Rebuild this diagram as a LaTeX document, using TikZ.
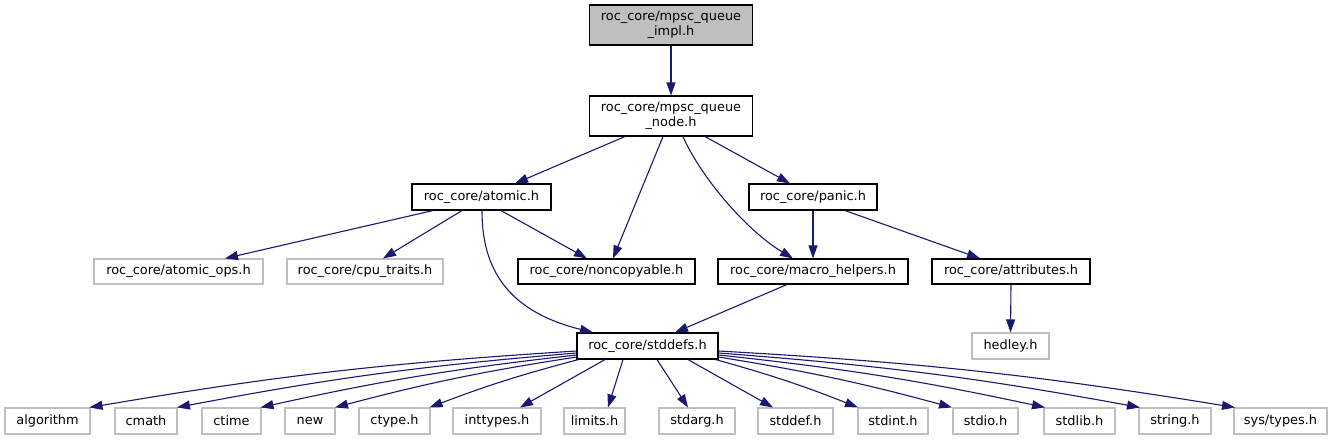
\documentclass[tikz,border=0pt]{standalone}
\usepackage{fontspec}
\setmainfont{DejaVu Sans}
\usetikzlibrary{arrows.meta,calc}
\definecolor{edgec}{HTML}{191970}
\definecolor{extc}{HTML}{BFBFBF}
\begin{document}
\begin{tikzpicture}[x=1pt,y=-1pt,
 base/.style={rectangle, inner sep=0pt, font=\fontsize{12.9}{15}\selectfont, align=center, line width=1.1pt},
 hdr/.style={base, draw=black, fill=white},
 ext/.style={base, draw=extc, fill=white},
 root/.style={base, draw=black, fill=extc},
 e/.style={draw=edgec, line width=1.1pt, -{Triangle[length=13pt,width=9pt]}},
]
\useasboundingbox (0,0) rectangle (1336,440);
% nodes
\node[root, minimum width=163, minimum height=40] (impl) at (671,25) {roc\_core/mpsc\_queue\\\_impl.h};
\node[hdr, minimum width=163, minimum height=40] (qnode) at (671,116) {roc\_core/mpsc\_queue\\\_node.h};
\node[hdr, minimum width=139, minimum height=26] (atomic) at (481.5,197) {roc\_core/atomic.h};
\node[hdr, minimum width=128, minimum height=26] (panic) at (813,197) {roc\_core/panic.h};
\node[ext, minimum width=169, minimum height=25] (aops) at (178.5,271.5) {roc\_core/atomic\_ops.h};
\node[ext, minimum width=156, minimum height=25] (cpu) at (365,271.5) {roc\_core/cpu\_traits.h};
\node[hdr, minimum width=177, minimum height=25] (noncp) at (606.5,271.5) {roc\_core/noncopyable.h};
\node[hdr, minimum width=190, minimum height=25] (macro) at (813,271.5) {roc\_core/macro\_helpers.h};
\node[hdr, minimum width=158, minimum height=25] (attr) at (1011,271.5) {roc\_core/attributes.h};
\node[hdr, minimum width=141, minimum height=26] (std) at (647.5,346) {roc\_core/stddefs.h};
\node[ext, minimum width=77, minimum height=26] (hedley) at (1010.5,346) {hedley.h};
% bottom row
\node[ext, minimum width=85, minimum height=26] (alg) at (47.5,421) {algorithm};
\node[ext, minimum width=62, minimum height=26] (cmath) at (146,421) {cmath};
\node[ext, minimum width=59, minimum height=26] (ctime) at (231.5,421) {ctime};
\node[ext, minimum width=50, minimum height=26] (new) at (310,421) {new};
\node[ext, minimum width=71, minimum height=26] (ctype) at (394.5,421) {ctype.h};
\node[ext, minimum width=88, minimum height=26] (inttypes) at (497,421) {inttypes.h};
\node[ext, minimum width=61, minimum height=26] (limits) at (594.5,421) {limits.h};
\node[ext, minimum width=76, minimum height=26] (stdarg) at (697,421) {stdarg.h};
\node[ext, minimum width=75, minimum height=26] (stddef) at (795.5,421) {stddef.h};
\node[ext, minimum width=70, minimum height=26] (stdint) at (893,421) {stdint.h};
\node[ext, minimum width=65, minimum height=26] (stdio) at (985.5,421) {stdio.h};
\node[ext, minimum width=71, minimum height=26] (stdlib) at (1079.5,421) {stdlib.h};
\node[ext, minimum width=72, minimum height=26] (string) at (1175,421) {string.h};
\node[ext, minimum width=93, minimum height=26] (systypes) at (1280.5,421) {sys/types.h};
% edges
\draw[e] (impl.south) -- (qnode.north);
\draw[e] ($(qnode.south)+(-46,0)$) -- ($(atomic.north)+(33.5,0)$);
\draw[e] ($(qnode.south)+(-8,0)$) -- ($(noncp.north)+(6.5,0)$);
\draw[e] ($(qnode.south)+(12,0)$) .. controls +(17,39) and +(-48,-29) .. ($(macro.north)+(-20,0)$);
\draw[e] ($(qnode.south)+(34,0)$) -- ($(panic.north)+(-23,0)$);
\draw[e] ($(atomic.south)+(-48.5,0)$) -- ($(aops.north)+(46.5,0)$);
\draw[e] ($(atomic.south)+(-19.5,0)$) -- ($(cpu.north)+(18,0)$);
\draw[e] ($(atomic.south)+(19.5,0)$) -- ($(noncp.north)+(-19.5,0)$);
\draw[e] ($(atomic.south)+(0.5,0)$) .. controls +(0,50) and +(-93,-23) .. ($(std.north)+(-54.5,0)$);
\draw[e] (panic.south) -- (macro.north);
\draw[e] ($(panic.south)+(32,0)$) -- ($(attr.north)+(-31,0)$);
\draw[e] ($(macro.south)+(-26,0)$) -- ($(std.north)+(27.5,0)$);
\draw[e] (attr.south) -- (hedley.north);
% stddefs fan-out
\draw[e] ($(std.west)+(0,5)$) to[bend right=3] ($(alg.north)+(42,0)$);
\draw[e] ($(std.west)+(0,7)$) to[bend right=3] ($(cmath.north)+(31,0)$);
\draw[e] ($(std.west)+(0,9)$) to[bend right=3] ($(ctime.north)+(29,0)$);
\draw[e] ($(std.west)+(0,11)$) to[bend right=3] ($(new.north)+(25,0)$);
\draw[e] ($(std.south west)+(2,0)$) to[bend right=3] ($(ctype.north)+(35,0)$);
\draw[e] ($(std.south)+(-42.5,0)$) -- ($(inttypes.north)+(23,0)$);
\draw[e] ($(std.south)+(-24.5,0)$) -- ($(limits.north)+(13.5,0)$);
\draw[e] ($(std.south)+(9.5,0)$) -- ($(stdarg.north)+(-9,0)$);
\draw[e] ($(std.south)+(40.5,0)$) -- ($(stddef.north)+(-22.5,0)$);
\draw[e] ($(std.south east)+(-3,0)$) to[bend left=3] ($(stdint.north)+(-35,0)$);
\draw[e] ($(std.east)+(0,11)$) to[bend left=3] ($(stdio.north)+(-33.5,0)$);
\draw[e] ($(std.east)+(0,9)$) to[bend left=3] ($(stdlib.north)+(-34.5,0)$);
\draw[e] ($(std.east)+(0,7)$) to[bend left=3] ($(string.north)+(-35,0)$);
\draw[e] ($(std.east)+(0,5)$) to[bend left=3] ($(systypes.north)+(-45.5,0)$);
\end{tikzpicture}
\end{document}
